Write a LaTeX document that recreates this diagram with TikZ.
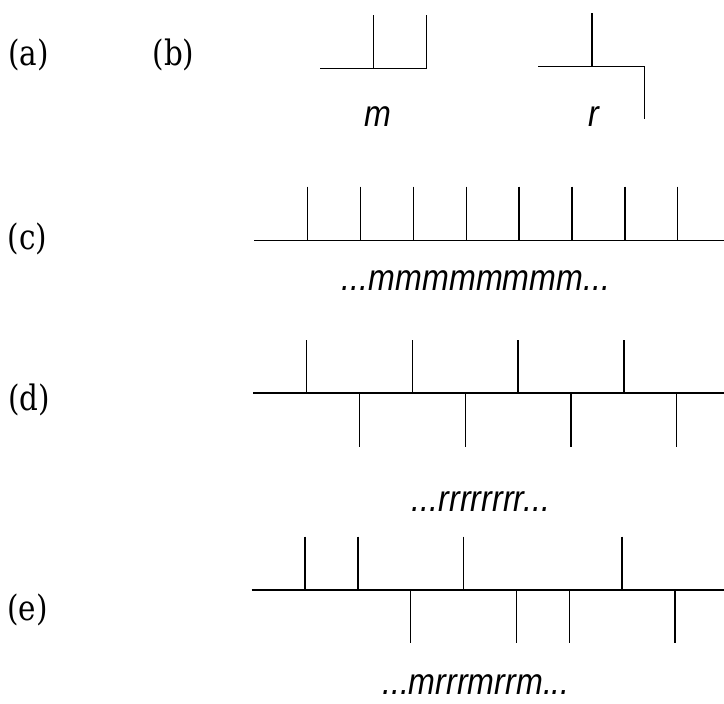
\documentclass[tikz,border=0pt]{standalone}
\usepackage{fontspec}
\newfontfamily\serifl[FakeStretch=0.84]{DejaVu Serif}
\newfontfamily\sansl[FakeStretch=0.87]{Liberation Sans}
\begin{document}
\begin{tikzpicture}[x=1pt,y=-1pt,line width=1.5pt,
  lettr/.style={font=\serifl\fontsize{35}{40}\selectfont,inner sep=0pt,anchor=base},
  word/.style={font=\sansl\itshape\fontsize{37}{40}\selectfont,inner sep=0pt,anchor=base}]
\useasboundingbox (0,0) rectangle (724,704);
% panel labels
\node[lettr] (la) at (28.5,65) {(a)};
\node[lettr] (lb) at (173.5,65) {(b)};
\node[lettr] (lc) at (27.5,249) {(c)};
\node[lettr] (ld) at (29,410) {(d)};
\node[lettr] (le) at (27.5,620) {(e)};
% unit m
\draw (320,68.3) -- (426.7,68.3) -- (426.7,15);
\draw (373.3,15) -- (373.3,68.3);
\node[word] (wm) at (377.5,126) {m};
% unit r
\draw (538.3,66.7) -- (644.3,66.7) -- (644.3,119.3);
\draw (592,13.3) -- (592,66.7);
\node[word] (wr) at (594,126) {r};
% chain c
\draw (254,240.7) -- (724,240.7);
\foreach \i in {0,...,7} \draw ({307.7+52.86*\i},186.7) -- ({307.7+52.86*\i},240.7);
\node[word] (wc) at (476,290) {...mmmmmmmm...};
% chain d
\draw (253,393) -- (724,393);
\foreach \i in {0,2,4,6} \draw ({306.7+52.86*\i},340) -- ({306.7+52.86*\i},393);
\foreach \i in {1,3,5,7} \draw ({306.7+52.86*\i},393) -- ({306.7+52.86*\i},446.7);
\node[word] (wd) at (481,511) {...rrrrrrrr...};
% chain e
\draw (251.7,590) -- (724,590);
\foreach \i in {0,1,3,6} \draw ({305+52.86*\i},536.7) -- ({305+52.86*\i},590);
\foreach \i in {2,4,5,7} \draw ({305+52.86*\i},590) -- ({305+52.86*\i},643.3);
\node[word] (we) at (476,694) {...mrrrmrrm...};
\end{tikzpicture}
\end{document}
